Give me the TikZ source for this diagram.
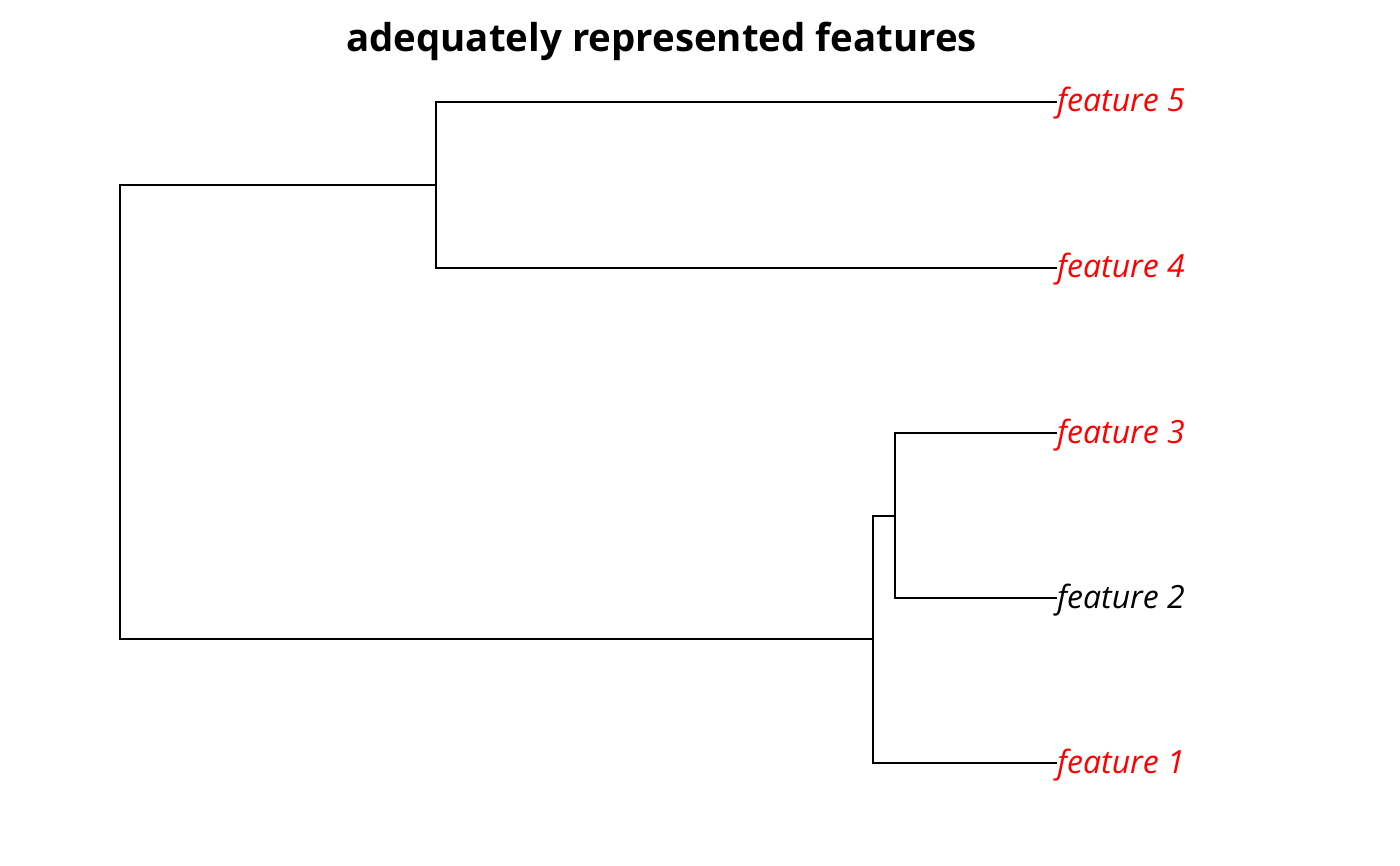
\documentclass[tikz,border=0pt]{standalone}
\usepackage{fontspec}
\setmainfont{Open Sans}
\begin{document}
\begin{tikzpicture}[x=1pt,y=-1pt,
  branch/.style={line width=2pt, black},
  leaflabel/.style={anchor=base west, inner sep=0pt, font=\fontsize{32}{38}\selectfont\itshape},
  titlestyle/.style={anchor=base, inner sep=0pt, font=\fontsize{38.4}{45}\selectfont\bfseries}]
\useasboundingbox (0,0) rectangle (1400,866);
\node[titlestyle] (title) at (661.5,52) {adequately represented features};
\coordinate (t5) at (1057,102);
\coordinate (t4) at (1057,268);
\coordinate (t3) at (1057,433);
\coordinate (t2) at (1057,598);
\coordinate (t1) at (1057,763);
\coordinate (n54) at (436,185);
\coordinate (n32) at (895,515.5);
\coordinate (n321) at (873,639);
\coordinate (root) at (120,412);
\draw[branch] (t5) -| (n54) |- (t4);
\draw[branch] (t3) -| (n32) |- (t2);
\draw[branch] (n32) -| (n321) |- (t1);
\draw[branch] (n54) -| (root) |- (n321);
\node[leaflabel, red] (l5) at ([yshift=-10pt]t5) {feature 5};
\node[leaflabel, red] (l4) at ([yshift=-10pt]t4) {feature 4};
\node[leaflabel, red] (l3) at ([yshift=-10pt]t3) {feature 3};
\node[leaflabel] (l2) at ([yshift=-10pt]t2) {feature 2};
\node[leaflabel, red] (l1) at ([yshift=-10pt]t1) {feature 1};
\end{tikzpicture}
\end{document}
